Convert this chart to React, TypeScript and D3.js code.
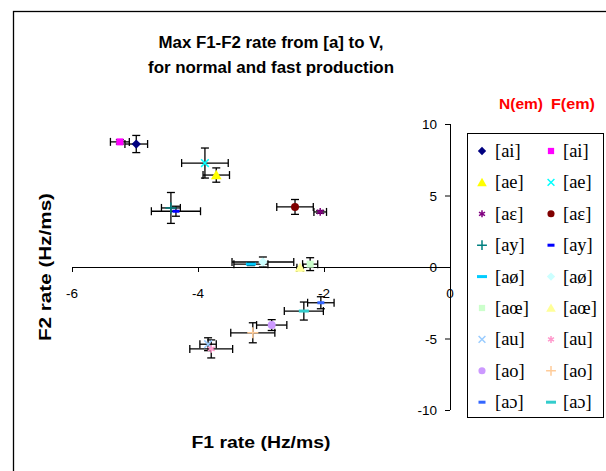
import * as d3 from 'd3';

const vowels = ['[ai]', '[ae]', '[aɛ]', '[ay]', '[aø]', '[aœ]', '[au]', '[ao]', '[aɔ]'];

// normal production (N)
const normalX = [-4.98, -3.71, -2.06, -4.43, -3.16, -2.22, -3.84, -2.83, -2.05];
const normalY = [8.6, 6.43, 3.85, 4.13, 0.2, 0.2, -5.4, -4.06, -2.5];
const normalXErr = [0.18, 0.21, 0.1, 0.15, 0.27, 0.12, 0.13, 0.24, 0.21];
const normalYErr = [0.6, 0.5, 0.1, 1.08, 0.1, 0.45, 0.45, 0.38, 0.42];
const normalColors = ['#000080', '#FFFF00', '#800080', '#008080', '#00CCFF', '#CCFFCC', '#99CCFF', '#CC99FF', '#3366FF'];
const normalSymbols = ['diamond', 'triangle', 'asterisk', 'plus', 'dash', 'square', 'x', 'circle', 'smalldash'];

// fast production (F)
const fastX = [-5.24, -3.89, -2.46, -4.35, -2.97, -2.38, -3.79, -3.13, -2.32];
const fastY = [8.75, 7.27, 4.2, 3.9, 0.35, -0.05, -5.73, -4.6, -3.08];
const fastXErr = [0.15, 0.37, 0.29, 0.39, 0.49, 0.05, 0.34, 0.35, 0.31];
const fastYErr = [0.15, 1.05, 0.52, 0.35, 0.35, 0.05, 0.63, 0.7, 0.63];
const fastColors = ['#FF00FF', '#00FFFF', '#800000', '#0000FF', '#CCFFFF', '#FFFF99', '#FF99CC', '#FFCC99', '#33CCCC'];
const fastSymbols = ['square', 'x', 'circle', 'smalldash', 'diamond', 'triangle', 'asterisk', 'plus', 'dash'];

const xTicks = [-6, -4, -2, 0];
const yTicks = [-10, -5, 0, 5, 10];

const W = 606;
const H = 471;
const sans = 'Arial, "Liberation Sans", sans-serif';
const serif = '"Times New Roman", "Liberation Serif", serif';

const Marker = ({ type, color, x, y, k = 1 }) => {
  const p = (sym, size) => d3.symbol().type(sym).size(size * k)();
  const tr = `translate(${x},${y})`;
  switch (type) {
    case 'diamond':
      return <path d={p(d3.symbolDiamond2, 55)} transform={tr} fill={color} />;
    case 'square':
      return <path d={p(d3.symbolSquare, 49)} transform={tr} fill={color} />;
    case 'triangle':
      return <path d={p(d3.symbolTriangle, 50)} transform={`translate(${x},${y + 1})`} fill={color} />;
    case 'circle':
      return <path d={p(d3.symbolCircle, 50)} transform={tr} fill={color} />;
    case 'x':
      return <path d={p(d3.symbolX, 40)} transform={tr} fill="none" stroke={color} strokeWidth={1.5} />;
    case 'plus':
      return <path d={p(d3.symbolPlus, 42)} transform={tr} fill="none" stroke={color} strokeWidth={1.5} />;
    case 'asterisk':
      return <path d={p(d3.symbolAsterisk, 42)} transform={tr} fill="none" stroke={color} strokeWidth={1.5} />;
    case 'dash':
      return <rect x={x - 5} y={y - 1.5} width={10} height={3} fill={color} />;
    case 'smalldash':
      return <rect x={x - 3.5} y={y - 1.5} width={7} height={3} fill={color} />;
    default:
      return null;
  }
};

const ErrorBars = ({ cx, cy, x0, x1, y0, y1 }) => {
  const cap = 4;
  return (
    <g stroke="#000" strokeWidth={1.3} fill="none">
      <line x1={x0} x2={x1} y1={cy} y2={cy} />
      <line x1={x0} x2={x0} y1={cy - cap} y2={cy + cap} />
      <line x1={x1} x2={x1} y1={cy - cap} y2={cy + cap} />
      <line x1={cx} x2={cx} y1={y0} y2={y1} />
      <line x1={cx - cap} x2={cx + cap} y1={y0} y2={y0} />
      <line x1={cx - cap} x2={cx + cap} y1={y1} y2={y1} />
    </g>
  );
};

export default function App() {
  const x = d3.scaleLinear().domain([-6, 0]).range([72, 450]);
  const y = d3.scaleLinear().domain([-10, 10]).range([410, 124]);

  const series = [
    { xs: normalX, ys: normalY, xe: normalXErr, ye: normalYErr, colors: normalColors, symbols: normalSymbols },
    { xs: fastX, ys: fastY, xe: fastXErr, ye: fastYErr, colors: fastColors, symbols: fastSymbols },
  ];

  const bars = [];
  const marks = [];
  series.forEach((s, si) => {
    vowels.forEach((v, i) => {
      const cx = x(s.xs[i]);
      const cy = y(s.ys[i]);
      bars.push(
        <ErrorBars
          key={`e${si}-${i}`}
          cx={cx}
          cy={cy}
          x0={x(s.xs[i] - s.xe[i])}
          x1={x(s.xs[i] + s.xe[i])}
          y0={y(s.ys[i] + s.ye[i])}
          y1={y(s.ys[i] - s.ye[i])}
        />
      );
      marks.push(<Marker key={`m${si}-${i}`} type={s.symbols[i]} color={s.colors[i]} x={cx} y={cy} />);
    });
  });

  const legendTop = 151;
  const rowH = 31.4;

  return (
    <svg width={W} height={H} style={{ position: 'absolute', left: 0, top: 0 }}>
      <rect x={0} y={0} width={W} height={H} fill="#fff" />
      <rect x={13.5} y={11.5} width={620} height={490} fill="none" stroke="#000" strokeWidth={1.3} />

      <text x={271} y={48} textAnchor="middle" fontFamily={sans} fontWeight="bold" fontSize={16}
        textLength={225} lengthAdjust="spacingAndGlyphs">
        Max F1-F2 rate from [a] to V,
      </text>
      <text x={271} y={73} textAnchor="middle" fontFamily={sans} fontWeight="bold" fontSize={16}
        textLength={246} lengthAdjust="spacingAndGlyphs">
        for normal and fast production
      </text>

      {/* x axis */}
      <g stroke="#000" strokeWidth={1}>
        <line x1={x(-6)} x2={x(0)} y1={y(0) + 0.5} y2={y(0) + 0.5} />
        {xTicks.map((t) => (
          <line key={t} x1={x(t) + 0.5} x2={x(t) + 0.5} y1={y(0)} y2={y(0) + 5} />
        ))}
      </g>
      {xTicks.map((t) => (
        <text key={t} x={x(t)} y={y(0) + 31} textAnchor="middle" fontFamily={sans} fontSize={13.5}>
          {t}
        </text>
      ))}

      {/* y axis */}
      <g stroke="#000" strokeWidth={1}>
        <line x1={x(0) + 0.5} x2={x(0) + 0.5} y1={y(10)} y2={y(-10)} />
        {yTicks.map((t) => (
          <line key={t} x1={x(0) - 5} x2={x(0)} y1={y(t) + 0.5} y2={y(t) + 0.5} />
        ))}
      </g>
      {yTicks.map((t) => (
        <text key={t} x={x(0) - 13} y={y(t) + 5} textAnchor="end" fontFamily={sans} fontSize={13.5}>
          {t}
        </text>
      ))}

      <text x={261} y={448} textAnchor="middle" fontFamily={sans} fontWeight="bold" fontSize={16}
        textLength={139} lengthAdjust="spacingAndGlyphs">
        F1 rate (Hz/ms)
      </text>
      <text
        transform={`translate(51,267) rotate(-90)`}
        textAnchor="middle"
        fontFamily={sans}
        fontWeight="bold"
        fontSize={16}
        textLength={148}
        lengthAdjust="spacingAndGlyphs"
      >
        F2 rate (Hz/ms)
      </text>

      {bars}
      {marks}

      {/* legend */}
      <text x={499} y={109} fontFamily={sans} fontWeight="bold" fontSize={14} fill="#FF0000"
        textLength={44} lengthAdjust="spacingAndGlyphs">
        N(em)
      </text>
      <text x={551} y={109} fontFamily={sans} fontWeight="bold" fontSize={14} fill="#FF0000"
        textLength={44} lengthAdjust="spacingAndGlyphs">
        F(em)
      </text>
      <rect x={467.5} y={133.5} width={136} height={284} fill="#fff" stroke="#000" strokeWidth={1} />
      {vowels.map((v, i) => {
        const ly = legendTop + i * rowH;
        return (
          <g key={v}>
            <Marker type={normalSymbols[i]} color={normalColors[i]} x={482} y={ly} k={0.8} />
            <text x={495} y={ly + 6} fontFamily={serif} fontSize={18.5}>
              {v}
            </text>
            <Marker type={fastSymbols[i]} color={fastColors[i]} x={551} y={ly} k={0.8} />
            <text x={563} y={ly + 6} fontFamily={serif} fontSize={18.5}>
              {v}
            </text>
          </g>
        );
      })}
    </svg>
  );
}
